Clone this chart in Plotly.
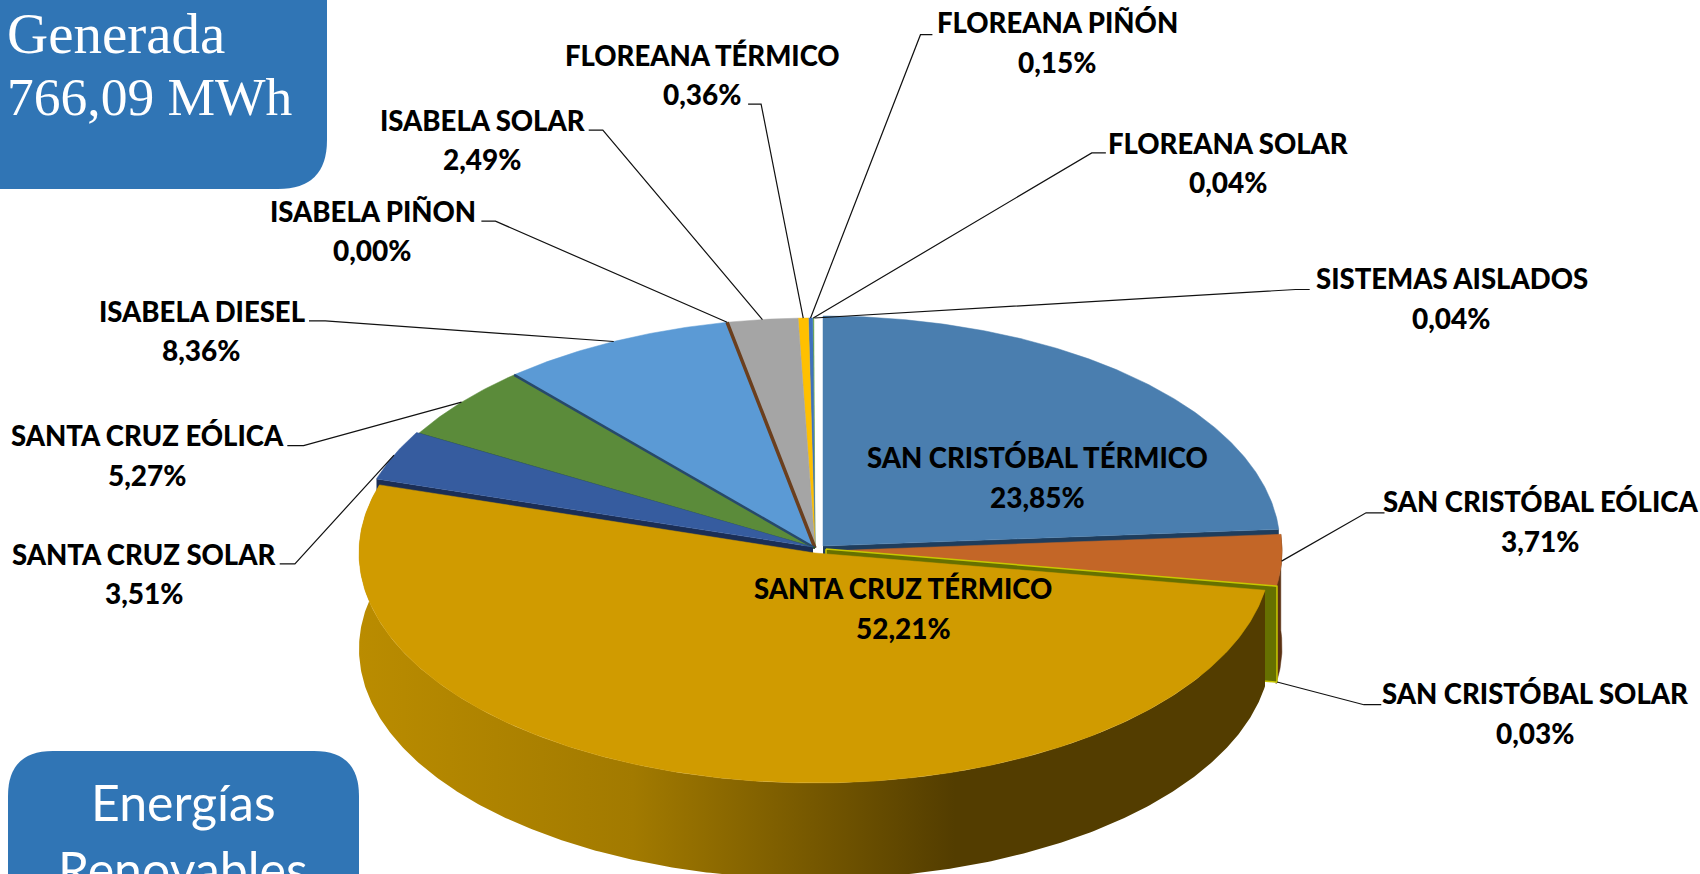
import numpy as np
import plotly.graph_objects as go

# ---------- data ----------
categories = ["SAN CRISTÓBAL TÉRMICO", "SAN CRISTÓBAL EÓLICA", "SAN CRISTÓBAL SOLAR",
              "SANTA CRUZ TÉRMICO", "SANTA CRUZ SOLAR", "SANTA CRUZ EÓLICA",
              "ISABELA DIESEL", "ISABELA PIÑON", "ISABELA SOLAR",
              "FLOREANA TÉRMICO", "FLOREANA PIÑÓN", "FLOREANA SOLAR", "SISTEMAS AISLADOS"]
shares = [23.85, 3.71, 0.03, 52.21, 3.51, 5.27, 8.36, 0.00, 2.49, 0.36, 0.15, 0.04, 0.04]
box_generada = ["Generada", "766,09 MWh"]
box_renovables = ["Energías", "Renovables"]

# ---------- style ----------
top_colors = ["#4A7EAF", "#C36627", "#C8C800", "#D09B00", "#365C9F", "#5B8B3A",
              "#5B9AD5", "#6B3F1E", "#A5A5A5", "#FFC000", "#3F72BE", "#70AD47", "#FFFFFF"]
K = 1700 / 1568
A, B, DEPTH = 457, 230, 96
GOLD_A = 456
CENTERS = {0: (823, 546), 1: (825, 551), 2: (826, 549), 3: (815, 553), 4: (813, 547)}
LEFT_CENTER = (815, 548)
BLUE = "#3075B5"
FONT = "Lato"

total = sum(shares)
edges = np.concatenate([[0], np.cumsum(shares)]) / total * 360


def center(i):
    return CENTERS.get(i, LEFT_CENTER)


def rim(i, ang, dz=0):
    cx, cy = center(i)
    t = np.radians(ang)
    a = GOLD_A if i == 3 else A
    return cx + a * np.sin(t), cy - B * np.cos(t) + dz


def top_face(i):
    cx, cy = center(i)
    n = max(2, int((edges[i + 1] - edges[i]) * 2) + 2)
    xs, ys = rim(i, np.linspace(edges[i], edges[i + 1], n))
    return np.r_[cx, xs, cx], np.r_[cy, ys, cy]


def side_wall(i):
    n = max(2, int((edges[i + 1] - edges[i]) * 2) + 2)
    ang = np.linspace(edges[i], edges[i + 1], n)
    x1, y1 = rim(i, ang)
    x2, y2 = rim(i, ang[::-1], DEPTH)
    return np.r_[x1, x2, x1[0]], np.r_[y1, y2, y1[0]]


def cut_face(i, ang):
    cx, cy = center(i)
    x, y = rim(i, ang)
    return [cx, x, x, cx, cx], [cy, y, y + DEPTH, cy + DEPTH, cy]


fig = go.Figure()


def poly(x, y, fill, line=None, width=0):
    fig.add_trace(go.Scatter(x=x, y=y, mode="lines", fill="toself", fillcolor=fill,
                             line=dict(color=line or fill, width=width), hoverinfo="skip",
                             showlegend=False))


def radial(i, ang, color, width):
    cx, cy = center(i)
    x, y = rim(i, ang)
    fig.add_trace(go.Scatter(x=[cx, x], y=[cy, y], mode="lines", hoverinfo="skip", showlegend=False,
                             line=dict(color=color, width=width)))


# back slices, left group
for i in [12, 11, 10, 9, 8, 6, 7, 5]:
    zero = shares[i] == 0
    poly(*top_face(i), top_colors[i], None, 3.5 if zero else 0.5)
radial(6, edges[6], "#27496B", 2.5)
radial(5, edges[5], "#2E5520", 1.5)
# Santa Cruz solar with its dark cut face
poly(*cut_face(4, edges[4]), "#1B2E55")
poly(*top_face(4), top_colors[4], width=0.5)
# San Cristobal termico
poly(*cut_face(0, edges[1]), "#1F3D5C")
poly(*top_face(0), top_colors[0], width=0.5)
# San Cristobal eolica
poly(*side_wall(1), "#5A3012", width=0.5)
poly(*top_face(1), top_colors[1], width=0.5)
# San Cristobal solar: thin slice, shows its olive cut face
poly(*cut_face(2, edges[3]), "#667000", "#C8C800", 1.5)
# Santa Cruz termico
wx, wy = side_wall(3)
fig.add_trace(go.Scatter(
    x=wx, y=wy, mode="lines", fill="toself", hoverinfo="skip", showlegend=False,
    line=dict(width=0, color="rgba(0,0,0,0)"),
    fillgradient=dict(type="horizontal", start=358, stop=1276,
                      colorscale=[[0, "#BA8C00"], [0.3, "#A27A00"], [0.65, "#533D00"], [1, "#533D00"]])))
poly(*top_face(3), top_colors[3], width=0.5)

# ---------- labels: centre x, first line y, leader start and elbow, on the 1568-wide view ----------
label_layout = {
    0: (957, 422, None),
    1: (1421, 463, ((1277, 473), (1260, 473))),
    2: (1416, 640, ((1274, 650), (1258, 650))),
    3: (833, 543, None),
    4: (133, 511, ((258, 520), (272, 520))),
    5: (136, 402, ((265, 411), (280, 411))),
    6: (186, 287, ((285, 296), (300, 296))),
    7: (344, 195, ((444, 204), (457, 204))),
    8: (445, 111, ((543, 120), (556, 120))),
    9: (648, 51, ((690, 96), (702, 96))),
    10: (975, 21, ((860, 32), (849, 32))),
    11: (1133, 132, ((1020, 141), (1007, 141))),
    12: (1339, 257, ((1208, 267), (1195, 267))),
}
name_font = dict(family=FONT, size=27.5, color="#000", weight=900)
pct_font = dict(family=FONT, size=28, color="#000", weight=900)
annotations = []
for i, (lx, ly, leader) in label_layout.items():
    pct = f"{shares[i]:.2f}%".replace(".", ",")
    annotations.append(dict(x=lx * K, y=ly * K, text=categories[i], showarrow=False,
                            xanchor="center", yanchor="middle", font=name_font))
    annotations.append(dict(x=lx * K, y=(ly + 36) * K, text=pct, showarrow=False,
                            xanchor="center", yanchor="middle", font=pct_font))
    if leader:
        mid = (edges[i] + edges[i + 1]) / 2
        ex, ey = rim(i, mid, DEPTH if i == 2 else 0)
        fig.add_trace(go.Scatter(x=[leader[0][0] * K, leader[1][0] * K, ex],
                                 y=[leader[0][1] * K, leader[1][1] * K, ey], mode="lines",
                                 hoverinfo="skip", showlegend=False, line=dict(color="#111", width=1.2)))

# box texts
for txt, y, sz in zip(box_generada, (33, 97), (57, 53.5)):
    annotations.append(dict(x=5, y=y, text=txt, showarrow=False, xanchor="left", yanchor="middle",
                            font=dict(family="Liberation Serif", size=sz, color="#fff")))
for txt, y in zip(box_renovables, (802, 869)):
    annotations.append(dict(x=183, y=y, text=txt, showarrow=False, xanchor="center", yanchor="middle",
                            font=dict(family="Lato", size=50, color="#fff")))

shapes = [
    dict(type="path", layer="below", line=dict(width=0), fillcolor=BLUE, xref="x", yref="y",
         path="M 0 0 L 327 0 L 327 140 Q 327 189 278 189 L 0 189 Z"),
    dict(type="path", layer="below", line=dict(width=0), fillcolor=BLUE, xref="x", yref="y",
         path="M 8 796 Q 8 751 53 751 L 314 751 Q 359 751 359 796 L 359 874 L 8 874 Z"),
]

fig.update_layout(
    width=1700, height=874, margin=dict(l=0, r=0, t=0, b=0),
    paper_bgcolor="#fff", plot_bgcolor="#fff", showlegend=False,
    xaxis=dict(range=[0, 1700], visible=False, fixedrange=True),
    yaxis=dict(range=[874, 0], visible=False, fixedrange=True),
    annotations=annotations, shapes=shapes,
)
fig.write_html("out.html", config={"displayModeBar": False},
               post_script="document.body.style.margin='0';")
